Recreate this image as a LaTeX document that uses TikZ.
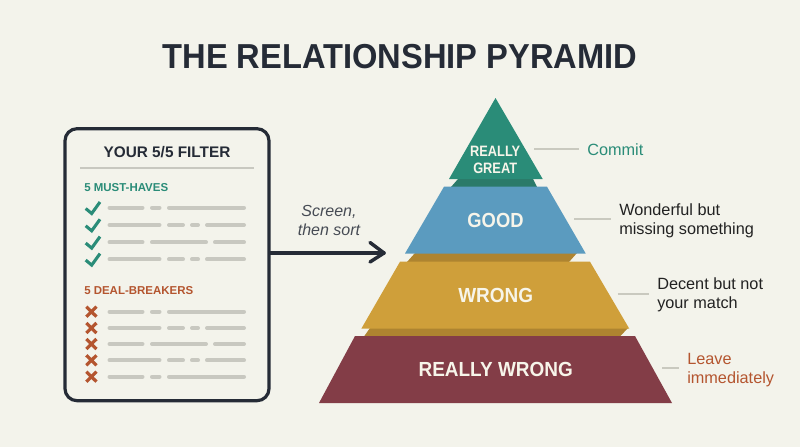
\documentclass[tikz,border=0pt]{standalone}
\usepackage{graphicx}
\usepackage{fontspec}
\setmainfont{Liberation Sans}
\definecolor{bgc}{HTML}{F3F3EB}
\definecolor{ink}{HTML}{252B36}
\definecolor{teal}{HTML}{2A8C78}
\definecolor{tealdk}{HTML}{2B7A69}
\definecolor{bluec}{HTML}{5B9BBF}
\definecolor{gold}{HTML}{CF9F3A}
\definecolor{golddk}{HTML}{AE8430}
\definecolor{maroon}{HTML}{833D47}
\definecolor{rust}{HTML}{B4552F}
\definecolor{barc}{HTML}{C8C8C0}
\definecolor{leadc}{HTML}{C9C9BF}
\definecolor{txtc}{HTML}{F7F5EA}
\definecolor{sidec}{HTML}{222222}
\newcommand{\fs}[1]{\fontsize{#1}{#1}\selectfont}
\newcommand{\nar}[2]{\scalebox{#1}[1]{#2}}
\tikzset{
  x=0.75pt,y=-0.75pt,
  barline/.style={barc,line width=3pt,line cap=round},
  lead/.style={leadc,line width=1.2pt},
  tick/.style={teal,line width=2.3pt,line join=miter},
  cross/.style={rust,line width=2.4pt},
  level/.style={txtc,font=\fs{15.3}\bfseries,inner sep=0pt,align=center},
  side/.style={anchor=west,inner xsep=6pt,inner ysep=0pt,align=left,font=\fs{12.2},text=sidec},
  head/.style={inner sep=0pt,anchor=west,font=\fs{8.6}\bfseries},
}
\newcommand{\rowa}[1]{\draw[barline] (109.5,#1)--(142.5,#1) (152,#1)--(159.5,#1) (169,#1)--(244,#1);}
\newcommand{\rowb}[1]{\draw[barline] (109.5,#1)--(159.5,#1) (169,#1)--(183,#1) (192,#1)--(198,#1) (207,#1)--(244,#1);}
\newcommand{\rowc}[1]{\draw[barline] (109.5,#1)--(142.5,#1) (152,#1)--(206,#1) (215,#1)--(244,#1);}
\newcommand{\chk}[1]{\draw[tick] (85.7,#1+.8)--(91.7,#1+5.8)--(100,#1-5.7);}
\newcommand{\crs}[1]{\draw[cross] (86.3,#1-5)--(96.5,#1+5) (96.5,#1-5)--(86.3,#1+5);}
\begin{document}
\begin{tikzpicture}
\path[use as bounding box,fill=bgc] (0,0) rectangle (800,447);
\node[inner sep=0pt,text=ink,font=\fs{26}\bfseries] (title) at (400,57) {\nar{0.942}{THE RELATIONSHIP PYRAMID}};

% panel
\node[draw=ink,line width=2.4pt,rounded corners=9pt,fill=bgc,minimum width=153pt,minimum height=204pt,inner sep=0pt] (panel) at (167,264.7) {};
\node[inner sep=0pt,text=ink,font=\fs{11.5}\bfseries] (ftitle) at (167,152) {YOUR 5/5 FILTER};
\coordinate (dl) at (80,168);
\coordinate (dr) at (254,168);
\draw[barc,line width=.8pt] (dl)--(dr);
\node[head,text=teal] (must) at (84,187.7) {5 MUST-HAVES};
\node[head,text=rust] (deal) at (84,291) {5 DEAL-BREAKERS};
\chk{207.7}\rowa{207.7}
\chk{225}\rowb{225}
\chk{242.3}\rowc{242.3}
\chk{259.3}\rowb{259.3}
\crs{311.7}\rowa{311.7}
\crs{328}\rowb{328}
\crs{344}\rowc{344}
\crs{360.3}\rowb{360.3}
\crs{376.7}\rowa{376.7}

% arrow
\coordinate (tip) at (384,253);
\draw[ink,line width=2.6pt,line cap=round,line join=round] (tip -| panel.east)--(tip);
\draw[ink,line width=2.6pt,line cap=round,line join=round] (370,242.5)--(tip)--(370,262);
\node[inner sep=0pt,align=center,text=ink!85,font=\fs{12}\itshape] (scr) at (329,220.5) {Screen,\\[2.2pt]then sort};

% pyramid
\fill[tealdk] (458,179)--(533,179)--(537,187)--(451,187)--cycle;
\fill[teal] (495.5,98)--(542.7,179)--(449,179)--cycle;
\fill[golddk] (415,253)--(577,253)--(569,262)--(407,262)--cycle;
\fill[bluec] (444,186.7)--(547,186.7)--(585.7,253.5)--(405,253.5)--cycle;
\fill[golddk] (370,328)--(628,328)--(620,336.5)--(364,336.5)--cycle;
\fill[gold] (400,261.7)--(590,261.7)--(629.3,328.7)--(361.3,328.7)--cycle;
\fill[maroon] (355,336)--(635,336)--(672,403)--(319,403)--cycle;
\node[level,font=\fs{11.3}\bfseries] (lv1) at (495.2,160) {\nar{0.85}{REALLY}\\[1.2pt]\nar{0.85}{GREAT}};
\node[level] (lv2) at (495.5,220.5) {\nar{0.90}{GOOD}};
\node[level] (lv3) at (495.7,295.5) {\nar{0.93}{WRONG}};
\node[level] (lv4) at (495.7,369.5) {\nar{0.93}{REALLY WRONG}};

% leaders and labels
\node[side,text=teal] (lb1) at (579,149.5) {Commit};
\node[side] (lb2) at (611,220.5) {Wonderful but\\[2.2pt]missing something};
\node[side] (lb3) at (649,295) {Decent but not\\[2.2pt]your match};
\node[side,text=rust] (lb4) at (679,370) {Leave\\[2.2pt]immediately};
\coordinate (a1) at (534,149);
\coordinate (a2) at (574,219);
\coordinate (a3) at (617.7,294);
\coordinate (a4) at (662,368);
\draw[lead] (a1)--(a1 -| lb1.west);
\draw[lead] (a2)--(a2 -| lb2.west);
\draw[lead] (a3)--(a3 -| lb3.west);
\draw[lead] (a4)--(a4 -| lb4.west);
\end{tikzpicture}
\end{document}
